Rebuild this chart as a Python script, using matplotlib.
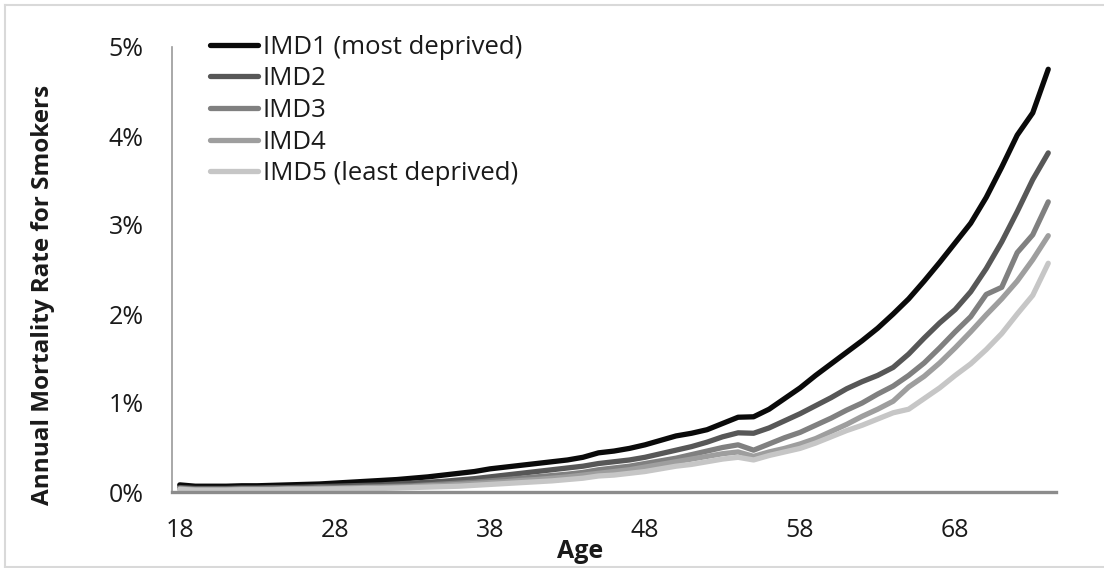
import matplotlib
matplotlib.use("Agg")
import matplotlib.pyplot as plt
from matplotlib.lines import Line2D

ages = list(range(18, 75))
imd1 = [0.08, 0.065, 0.065, 0.065, 0.07, 0.07, 0.075, 0.08, 0.085, 0.09,
        0.10, 0.11, 0.12, 0.13, 0.14, 0.155, 0.17, 0.19, 0.21, 0.23,
        0.26, 0.28, 0.30, 0.32, 0.34, 0.36, 0.39, 0.44, 0.46, 0.49,
        0.53, 0.58, 0.63,
        0.66, 0.70, 0.77, 0.84, 0.845, 0.93, 1.05, 1.17, 1.31, 1.44,
        1.57, 1.70, 1.84, 2.00, 2.17, 2.37, 2.58, 2.80, 3.02, 3.31,
        3.65, 4.01, 4.26, 4.75]
imd2 = [0.05, 0.04, 0.04, 0.04, 0.045, 0.045, 0.05, 0.05, 0.055, 0.06,
        0.065, 0.07, 0.075, 0.08, 0.09, 0.10, 0.11, 0.12, 0.135, 0.15,
        0.17, 0.19, 0.21, 0.23, 0.25, 0.27, 0.29, 0.32, 0.34, 0.36,
        0.39, 0.43, 0.47,
        0.51, 0.56, 0.62, 0.665, 0.66, 0.72, 0.80, 0.88, 0.97, 1.06,
        1.16, 1.24, 1.31, 1.40, 1.55, 1.73, 1.90, 2.05, 2.25, 2.51,
        2.81, 3.15, 3.51, 3.81]
imd3 = [0.04, 0.03, 0.03, 0.03, 0.035, 0.035, 0.035, 0.04, 0.04, 0.045,
        0.045, 0.05, 0.055, 0.06, 0.065, 0.07, 0.08, 0.09, 0.10, 0.11,
        0.125, 0.14, 0.155, 0.17, 0.185, 0.20, 0.22, 0.25, 0.27, 0.29,
        0.32, 0.35, 0.38,
        0.42, 0.46, 0.50, 0.53, 0.47, 0.54, 0.61, 0.67, 0.75, 0.83,
        0.92, 1.00, 1.10, 1.19, 1.31, 1.45, 1.62, 1.80, 1.97, 2.22,
        2.30, 2.69, 2.89, 3.26]
imd4 = [0.035, 0.025, 0.025, 0.025, 0.03, 0.03, 0.03, 0.035, 0.035, 0.04,
        0.04, 0.045, 0.05, 0.05, 0.055, 0.06, 0.07, 0.075, 0.085, 0.095,
        0.105, 0.115, 0.13, 0.14, 0.155, 0.17, 0.19, 0.21, 0.23, 0.25,
        0.28, 0.31, 0.34,
        0.37, 0.40, 0.43, 0.45, 0.40, 0.45, 0.49, 0.54, 0.60, 0.68,
        0.76, 0.85, 0.93, 1.02, 1.18, 1.30, 1.45, 1.62, 1.80, 1.99,
        2.17, 2.37, 2.61, 2.88]
imd5 = [0.03, 0.02, 0.02, 0.02, 0.025, 0.025, 0.025, 0.03, 0.03, 0.03,
        0.035, 0.035, 0.04, 0.04, 0.045, 0.05, 0.055, 0.06, 0.065, 0.075,
        0.085, 0.095, 0.105, 0.115, 0.125, 0.14, 0.155, 0.18, 0.19, 0.21,
        0.23, 0.26, 0.29,
        0.31, 0.34, 0.37, 0.39, 0.36, 0.41, 0.45, 0.49, 0.55, 0.62,
        0.69, 0.75, 0.82, 0.89, 0.93, 1.05, 1.17, 1.31, 1.44, 1.60,
        1.78, 2.00, 2.21, 2.57]

labels = ["IMD1 (most deprived)", "IMD2", "IMD3", "IMD4", "IMD5 (least deprived)"]
colors = ["#0a0a0a", "#575757", "#808080", "#9e9e9e", "#c6c6c6"]
series = [imd1, imd2, imd3, imd4, imd5]
xticks = [18, 28, 38, 48, 58, 68]
yticks = [0, 1, 2, 3, 4, 5]

plt.rcParams['font.family'] = ['Open Sans', 'DejaVu Sans']
TXT = "#1a1a1a"

W, H = 1104, 568
fig = plt.figure(figsize=(W / 100, H / 100), dpi=100)

def fx(px):
    return px / W

def fy(py):
    return 1 - py / H

# outer chart border (light grey frame)
bc = "#d9d9d9"
fig.add_artist(Line2D([fx(5), fx(5)], [fy(5), fy(567)], color=bc, lw=1.5))
fig.add_artist(Line2D([fx(5), 1.0], [fy(5), fy(5)], color=bc, lw=1.5))
fig.add_artist(Line2D([fx(5), 1.0], [fy(567), fy(567)], color=bc, lw=1.5))

left, right, top, bottom = 172, 1056, 47, 492
ax = fig.add_axes([fx(left), fy(bottom), (right - left) / W, (bottom - top) / H])

for s, c, lab in zip(series, colors, labels):
    ax.plot(ages, s, color=c, lw=3.8, solid_capstyle="round",
            solid_joinstyle="round", label=lab)

ax.set_xlim(17.5, 74.5)
ax.set_ylim(0, 5)
ax.set_xticks(xticks)
ax.set_yticks(yticks)
ax.set_yticklabels([f"{v}%" for v in yticks])
ax.tick_params(axis="both", length=0, labelsize=18, colors=TXT)
ax.tick_params(axis="y", pad=20.5)
ax.tick_params(axis="x", pad=19)
for sp in ["top", "right"]:
    ax.spines[sp].set_visible(False)
ax.spines["left"].set_color("#9a9a9a")
ax.spines["left"].set_linewidth(1.2)
ax.spines["bottom"].set_color("#8c8c8c")
ax.spines["bottom"].set_linewidth(2.4)

fig.text(fx(580), fy(558), "Age", ha="center", va="baseline",
         fontsize=18, fontweight="bold", color=TXT)
fig.text(fx(43), fy(295), "Annual Mortality Rate for Smokers", ha="center", va="center",
         rotation=90, fontsize=17.5, fontweight="bold", color=TXT)

leg = ax.legend(loc="upper left", bbox_to_anchor=(fx(210), fy(34.5)),
                bbox_transform=fig.transFigure, frameon=False, fontsize=18.5,
                handlelength=1.85, handletextpad=0.2, labelspacing=0.26,
                borderpad=0, borderaxespad=0)
for t in leg.get_texts():
    t.set_color(TXT)

fig.savefig("out.png", dpi=100)
